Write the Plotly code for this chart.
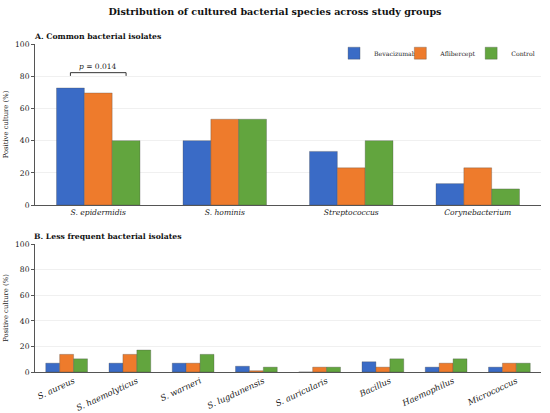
import plotly.graph_objects as go
from plotly.subplots import make_subplots

# groups
groups = ["Bevacizumab", "Aflibercept", "Control"]
colors = ["#3A6BC6", "#EE7B2C", "#62A53E"]

# A. common isolates (% positive culture)
common_species = ["S. epidermidis", "S. hominis", "Streptococcus", "Corynebacterium"]
common_bev = [72.7, 40.0, 33.3, 13.3]
common_afl = [69.6, 53.3, 23.1, 23.1]
common_ctrl = [40.0, 53.3, 40.0, 10.0]

# B. less frequent isolates
rare_species = ["S. aureus", "S. haemolyticus", "S. warneri", "S. lugdunensis",
                "S. auricularis", "Bacillus", "Haemophilus", "Micrococcus"]
rare_bev = [6.9, 6.9, 6.9, 4.5, 0.0, 8.0, 3.8, 3.8]
rare_afl = [13.8, 13.8, 6.9, 1.0, 3.8, 3.8, 6.9, 6.9]
rare_ctrl = [10.3, 17.2, 13.8, 3.8, 3.8, 10.3, 10.3, 6.9]

p_label = "<i>p</i> = 0.014"

FONT = "DejaVu Serif"
BARGAP = 0.34

fig = make_subplots(rows=2, cols=1, vertical_spacing=0.12)

# one small legend per group so the items can sit where the reference has them
legend_ids = ["legend", "legend2", "legend3"]
legend_x = [0.591, 0.722, 0.862]

common = [common_bev, common_afl, common_ctrl]
rare = [rare_bev, rare_afl, rare_ctrl]
for i, name in enumerate(groups):
    fig.add_trace(go.Bar(x=list(range(len(common_species))), y=common[i], name=name,
                         marker=dict(color=colors[i], line=dict(color="rgba(70,70,70,0.5)", width=0.6)),
                         legendgroup=name, legend=legend_ids[i]), row=1, col=1)
    fig.add_trace(go.Bar(x=list(range(len(rare_species))), y=rare[i], name=name,
                         marker=dict(color=colors[i], line=dict(color="rgba(70,70,70,0.5)", width=0.6)),
                         legendgroup=name, showlegend=False), row=2, col=1)

# significance bracket between Bevacizumab and Control for S. epidermidis
off = (1 - BARGAP) / 3
x0, x1 = 0 - off, 0 + off
top = max(common_bev[0], common_afl[0], common_ctrl[0])
yb = top + 9.5
fig.add_shape(type="path", xref="x", yref="y",
              path=f"M {x0},{yb-2} L {x0},{yb} L {x1},{yb} L {x1},{yb-2}",
              line=dict(color="#333", width=1))
fig.add_annotation(x=0, y=yb, xref="x", yref="y", text=p_label, showarrow=False,
                   yanchor="bottom", yshift=0, font=dict(family=FONT, size=7.5, color="#222"))

axis_common = dict(showline=True, linecolor="#555", linewidth=1, showgrid=False,
                   ticks="", tickfont=dict(family=FONT, size=7.6, color="#222"), automargin=False)
fig.update_xaxes(**axis_common)
fig.update_xaxes(tickvals=list(range(len(common_species))),
                 ticktext=[f"<i>{s}</i>" for s in common_species],
                 range=[-0.5, len(common_species) - 0.5], row=1, col=1)
fig.update_xaxes(tickvals=list(range(len(rare_species))),
                 ticktext=[f"<i>{s}</i>" for s in rare_species], tickangle=-25,
                 tickfont=dict(family=FONT, size=8.4, color="#222"), ticklabelshift=7,
                 range=[-0.5, len(rare_species) - 0.5], row=2, col=1)

fig.update_yaxes(range=[0, 100], tickvals=[0, 20, 40, 60, 80, 100], showline=True,
                 linecolor="#555", linewidth=1, ticks="outside", ticklen=3, tickcolor="#555",
                 showgrid=True, gridcolor="#f0f0f0", zeroline=False,
                 tickfont=dict(family=FONT, size=7.6, color="#222"), automargin=False,
                 title=dict(text="Positive culture (%)", font=dict(family=FONT, size=6.8, color="#222"),
                            standoff=5))

legend_style = dict(orientation="h", xanchor="left", y=0.972, yanchor="middle",
                    font=dict(family=FONT, size=6.2, color="#222"), bgcolor="rgba(0,0,0,0)",
                    itemwidth=30)

fig.update_layout(
    width=550, height=413,
    template="none",
    barmode="group", bargap=BARGAP, bargroupgap=0,
    paper_bgcolor="white", plot_bgcolor="white",
    margin=dict(l=35, r=9, t=44, b=41),
    font=dict(family=FONT, color="#222"),
    title=dict(text="<b>Distribution of cultured bacterial species across study groups</b>",
               x=0.5, xanchor="center", y=0.971, yanchor="middle",
               font=dict(family=FONT, size=9.6, color="#111")),
    legend=dict(x=legend_x[0], **legend_style),
    legend2=dict(x=legend_x[1], **legend_style),
    legend3=dict(x=legend_x[2], **legend_style),
    showlegend=True,
)
fig.update_layout(yaxis=dict(domain=[0.509, 1.0]), yaxis2=dict(domain=[0.0, 0.39]))

fig.add_annotation(x=0, y=1.0, xref="paper", yref="paper", xanchor="left", yanchor="bottom",
                   xshift=-3, yshift=1, showarrow=False,
                   text="<b>A. Common bacterial isolates</b>",
                   font=dict(family=FONT, size=7.7, color="#111"))
fig.add_annotation(x=0, y=0.39, xref="paper", yref="paper", xanchor="left", yanchor="bottom",
                   xshift=-3, yshift=1, showarrow=False,
                   text="<b>B. Less frequent bacterial isolates</b>",
                   font=dict(family=FONT, size=7.7, color="#111"))

fig.write_html("out.html", config={"displayModeBar": False},
               post_script="document.body.style.margin='0';")
